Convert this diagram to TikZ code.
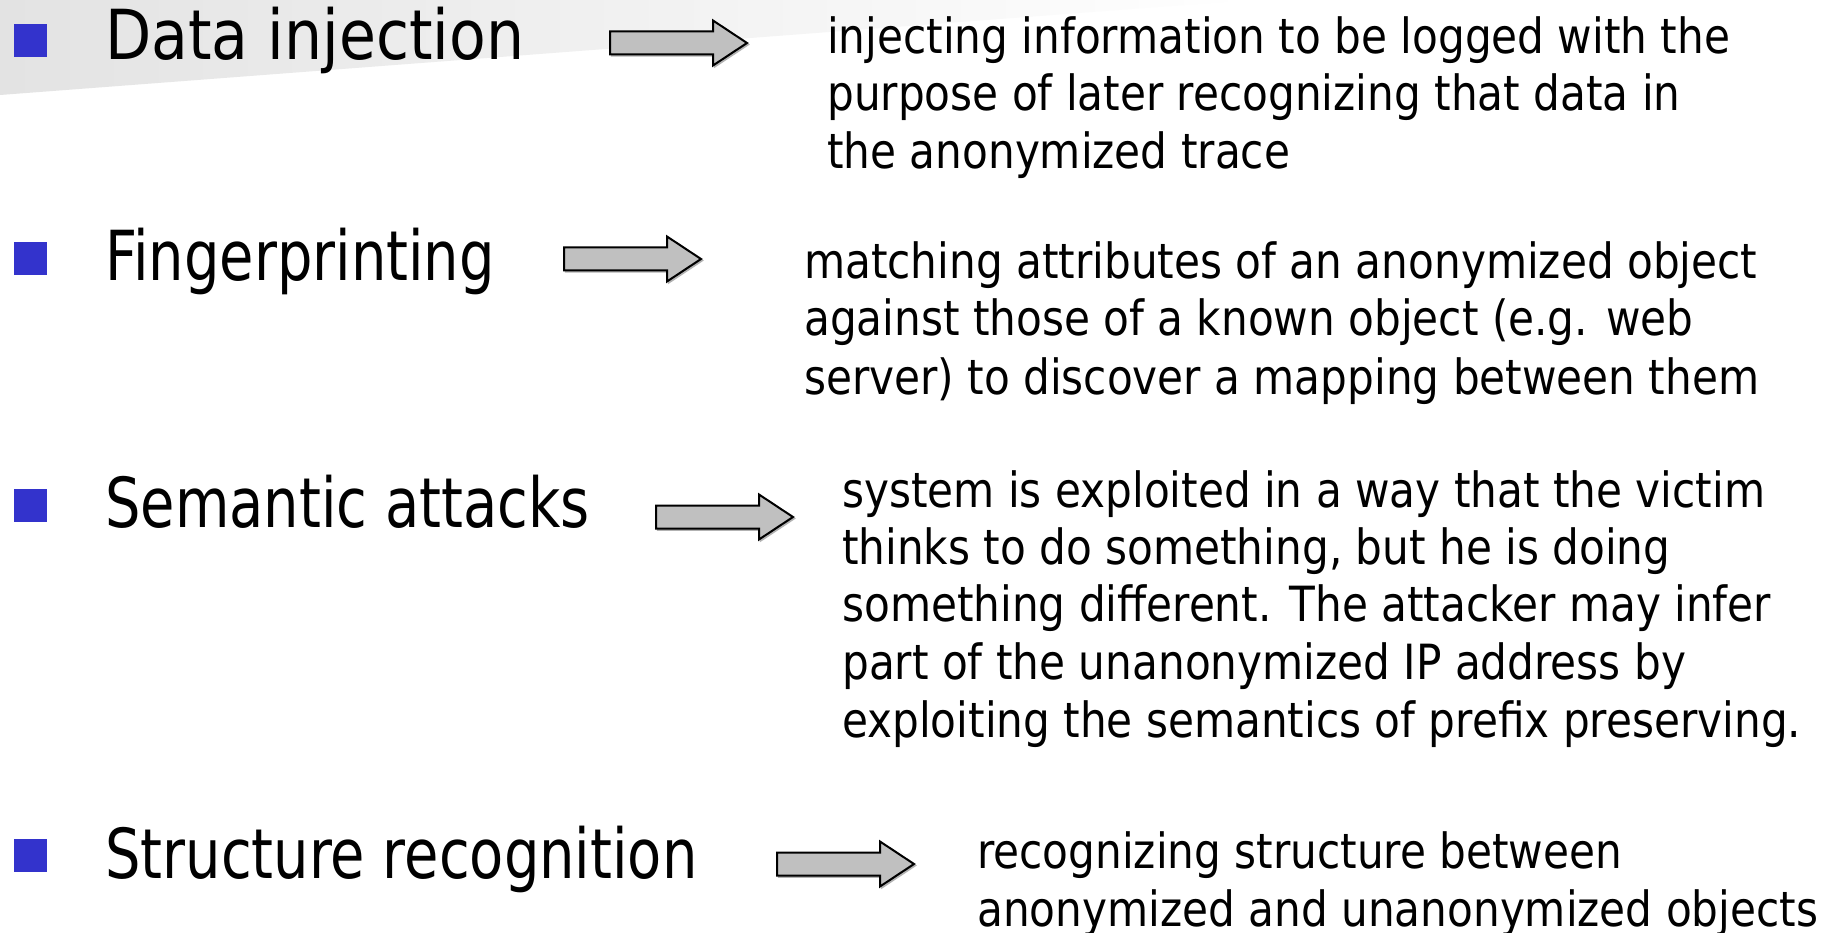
\documentclass[tikz,border=0pt]{standalone}
\usepackage{fontspec}
\usepackage{graphicx}
\setmainfont[FakeStretch=0.87]{DejaVu Sans}
\newfontfamily\titlefont[FakeStretch=0.81]{DejaVu Sans}
\definecolor{bulletblue}{HTML}{3333CC}
\definecolor{arrowgray}{HTML}{C0C0C0}
\tikzset{
  bulletbox/.style={fill=bulletblue, draw=none, minimum width=33pt, minimum height=33pt, inner sep=0pt, outer sep=0pt},
  titletext/.style={anchor=base west, inner sep=0pt, font=\titlefont\fontsize{69}{80}\selectfont},
  desctext/.style={anchor=base west, inner sep=0pt, font=\fontsize{48.5}{57}\selectfont},
  arrowshape/.style={draw=black, line width=2pt, fill=arrowgray, line join=miter},
  arrowshadow/.style={draw=gray!60, line width=1.5pt, fill=gray!60},
  blockarrow/.pic={
    \draw[arrowshadow] (1.5,-10) -- (104.5,-10) -- (104.5,-21) -- (138.5,1.5) -- (104.5,24) -- (104.5,13) -- (1.5,13) -- cycle;
    \draw[arrowshape] (0,-11.5) -- (103,-11.5) -- (103,-22.5) -- (137,0) -- (103,22.5) -- (103,11.5) -- (0,11.5) -- cycle;
  }
}
\begin{document}
\begin{tikzpicture}[x=1pt, y=-1pt]
\useasboundingbox (0,0) rectangle (1829,933);
\fill[white] (0,0) rectangle (1829,933);
\shade[left color=gray!22, right color=white] (0,0) -- (1250,0) -- (0,95) -- cycle;

% Row 1
\node[bulletbox] (b1) at (30,41) {};
\node[titletext] (t1) at (105,60) {\scalebox{1.075}[1]{Data injection}};
\pic (a1) at (610,43) {blockarrow};
\node[desctext] (d1a) at (827,54) {injecting information to be logged with the};
\node[desctext] (d1b) at (827,111) {purpose of later recognizing that data in};
\node[desctext] (d1c) at (827,169) {the anonymized trace};

% Row 2
\node[bulletbox] (b2) at (30,259) {};
\node[titletext] (t2) at (105,281) {Fingerprinting};
\pic (a2) at (564,259) {blockarrow};
\node[desctext] (d2a) at (804,279) {matching attributes of an anonymized object};
\node[desctext] (d2b) at (804,336) {against those of a known object (e.g. web};
\node[desctext] (d2c) at (804,394) {server) to discover a mapping between them};

% Row 3
\node[bulletbox] (b3) at (30,505) {};
\node[titletext] (t3) at (105,527) {Semantic attacks};
\pic (a3) at (656,517) {blockarrow};
\node[desctext] (d3a) at (842,507) {system is exploited in a way that the victim};
\node[desctext] (d3b) at (842,564) {thinks to do something, but he is doing};
\node[desctext] (d3c) at (842,621) {something different. The attacker may infer};
\node[desctext] (d3d) at (842,679) {part of the unanonymized IP address by};
\node[desctext] (d3e) at (842,737) {exploiting the semantics of prefix preserving.};

% Row 4
\node[bulletbox] (b4) at (30,855) {};
\node[titletext] (t4) at (105,878) {Structure recognition};
\pic (a4) at (777,864) {blockarrow};
\node[desctext] (d4a) at (977,868) {recognizing structure between};
\node[desctext] (d4b) at (977,926) {anonymized and unanonymized objects};
\end{tikzpicture}
\end{document}
